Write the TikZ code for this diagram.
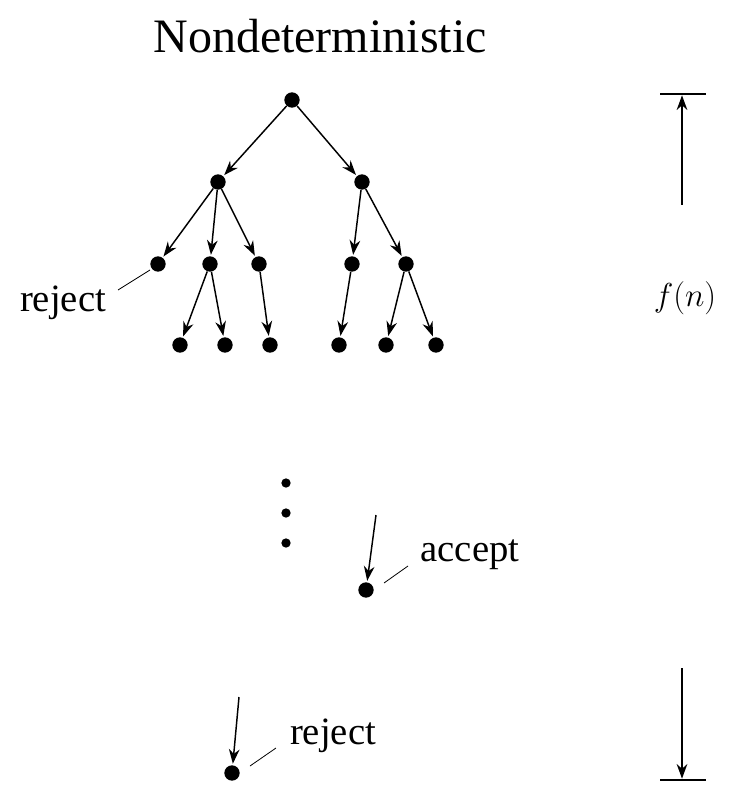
\documentclass[tikz,border=0pt]{standalone}
\usepackage{fontspec}
\usepackage{graphicx}
\setmainfont{Liberation Serif}
\usetikzlibrary{arrows.meta}
\begin{document}
\begin{tikzpicture}[x=0.75pt,y=-0.75pt,
 dot/.style={circle,fill=black,inner sep=0pt,minimum size=11.5pt},
 arr/.style={-{Stealth[length=11pt,width=8pt]},line width=1.1pt,shorten >=1pt},
 lbl/.style={font=\fontsize{29}{33}\selectfont},
 thin/.style={line width=0.6pt}]
\useasboundingbox (0,0) rectangle (740,809);
\node[font=\fontsize{36}{40}\selectfont] (title) at (320,36) {Nondeterministic};
\node[dot] (r) at (292,100) {};
\node[dot] (a) at (218,182) {};
\node[dot] (b) at (362,182) {};
\node[dot] (c1) at (158,264) {};
\node[dot] (c2) at (210,264) {};
\node[dot] (c3) at (259,264) {};
\node[dot] (c4) at (352,264) {};
\node[dot] (c5) at (406,264) {};
\node[dot] (d1) at (180,345) {};
\node[dot] (d2) at (225,345) {};
\node[dot] (d3) at (270,345) {};
\node[dot] (d4) at (339,345) {};
\node[dot] (d5) at (386,345) {};
\node[dot] (d6) at (436,345) {};
\foreach \s/\t in {r/a,r/b,a/c1,a/c2,a/c3,b/c4,b/c5,c2/d1,c2/d2,c3/d3,c4/d4,c5/d5,c5/d6}
 \draw[arr] (\s) -- (\t);
\node[lbl] (rej1) at (63,303) {reject};
\coordinate (rj1a) at (118,290);
\coordinate (rj1b) at (150,270);
\draw[thin] (rj1a) -- (rj1b);
\foreach \y/\n in {483/e1,513/e2,543/e3} \node[circle,fill=black,inner sep=0pt,minimum size=7pt] (\n) at (286,\y) {};
\node[dot] (acc) at (366,590) {};
\coordinate (accs) at (376,515);
\draw[arr] (accs) -- (acc);
\node[lbl] (acct) at (470,555) {accept};
\coordinate (ac1) at (384,583);
\coordinate (ac2) at (408,566);
\draw[thin] (ac1) -- (ac2);
\node[dot] (rej) at (232,773) {};
\coordinate (rejs) at (239,697);
\draw[arr] (rejs) -- (rej);
\node[lbl] (rejt) at (333,736) {reject};
\coordinate (rt1) at (250,766);
\coordinate (rt2) at (276,748);
\draw[thin] (rt1) -- (rt2);
\node[font=\huge] (fn) at (685,298) {\scalebox{1.2}{$f(n)$}};
\coordinate (tb1) at (660,94);
\coordinate (tb2) at (706,94);
\coordinate (tbm) at (682,94);
\draw[line width=1.1pt] (tb1) -- (tb2);
\coordinate (ta) at (682,205);
\draw[arr] (ta) -- (tbm);
\coordinate (bb1) at (660,780);
\coordinate (bb2) at (706,780);
\coordinate (bbm) at (682,780);
\draw[line width=1.1pt] (bb1) -- (bb2);
\coordinate (ba) at (682,668);
\draw[arr] (ba) -- (bbm);
\end{tikzpicture}
\end{document}
